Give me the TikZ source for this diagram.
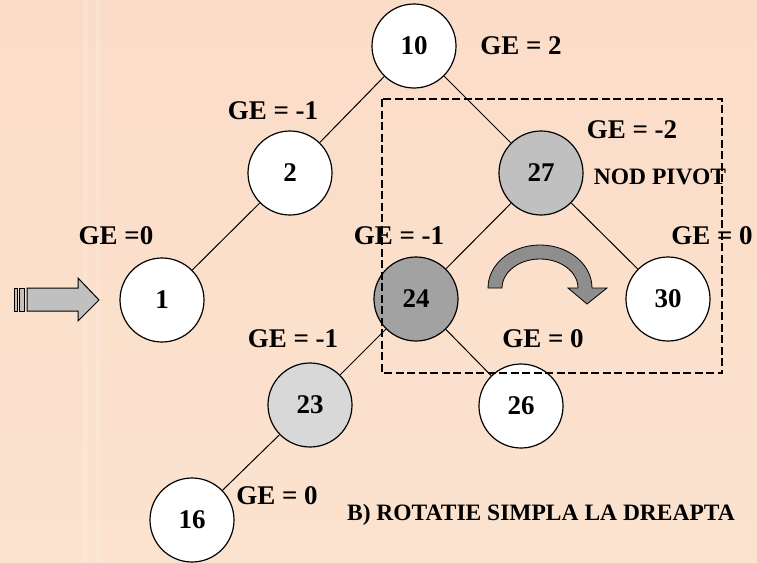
\documentclass[tikz,border=0pt]{standalone}
\usepackage{fontspec}
\setmainfont{Liberation Serif}
\usetikzlibrary{shapes.geometric}
\definecolor{bgtop}{HTML}{FBDCC8}
\definecolor{bgbot}{HTML}{FBE3CF}
\definecolor{pivotgray}{HTML}{C0C0C0}
\definecolor{hatchgray}{HTML}{A2A2A2}
\definecolor{dotgray}{HTML}{D8D8D8}
\definecolor{arrowgray}{HTML}{8E8E8E}
\tikzset{
  treenode/.style={circle, draw=black, line width=1.2pt, fill=white, minimum size=84pt, inner sep=0pt, font=\fontsize{27}{30}\selectfont\bfseries},
  gelabel/.style={font=\fontsize{27}{30}\selectfont\bfseries, inner sep=0pt},
  smalllabel/.style={font=\fontsize{23.5}{26}\selectfont\bfseries, inner sep=0pt},
  edge/.style={draw=black, line width=1pt},
}
\begin{document}
\begin{tikzpicture}[x=1pt,y=-1pt]
\useasboundingbox (0,0) rectangle (757,562);
\shade[top color=bgtop, bottom color=bgbot] (0,0) rectangle (757,562);
\fill[white, opacity=0.15] (83,0) rectangle (88,562);
\fill[white, opacity=0.15] (96,0) rectangle (100,562);

% nodes
\node[treenode] (n10) at (414,46) {10};
\node[treenode] (n2) at (290,173) {2};
\node[treenode, fill=pivotgray] (n27) at (541,173) {27};
\node[treenode] (n1) at (162,300) {1};
\node[treenode, fill=hatchgray] (n24) at (416,299) {24};
\node[treenode] (n30) at (668,299) {30};
\node[treenode, fill=dotgray] (n23) at (310,405) {23};
\node[treenode] (n26) at (521,406) {26};
\node[treenode] (n16) at (192,520) {16};

% edges
\draw[edge] (n10) -- (n2);
\draw[edge] (n10) -- (n27);
\draw[edge] (n2) -- (n1);
\draw[edge] (n27) -- (n24);
\draw[edge] (n27) -- (n30);
\draw[edge] (n24) -- (n23);
\draw[edge] (n24) -- (n26);
\draw[edge] (n23) -- (n16);

% labels
\node[gelabel] (l10) at (521,46) {GE = 2};
\node[gelabel] (l2) at (273,111) {GE = -1};
\node[gelabel] (l27) at (632,130) {GE = -2};
\node[smalllabel] (lpivot) at (660,177) {NOD PIVOT};
\node[gelabel] (l1) at (116,236) {GE =0};
\node[gelabel] (l24) at (399,236) {GE = -1};
\node[gelabel] (l30) at (712,236) {GE = 0};
\node[gelabel] (l23) at (293,339) {GE = -1};
\node[gelabel] (l26) at (543,339) {GE = 0};
\node[gelabel] (l16) at (277,496) {GE = 0};
\node[smalllabel] (title) at (541,515) {B) ROTATIE SIMPLA LA DREAPTA};

% dashed box
\draw[black, line width=2.6pt, dash pattern=on 8pt off 3.5pt] (382,99) rectangle (722,373);

% left block arrow
\draw[black, line width=1pt, fill=pivotgray] (14,288) rectangle (17,311);
\draw[black, line width=1pt, fill=pivotgray] (19,288) rectangle (24,311);
\draw[black, line width=1pt, fill=pivotgray] (27,288) -- (78,288) -- (78,278) -- (99,300) -- (78,321) -- (78,311) -- (27,311) -- cycle;

% curved rotation arrow
\draw[black, line width=0.8pt, fill=arrowgray] (488,288) arc[start angle=180, end angle=360, x radius=52, y radius=43]
  -- (607,288) -- (587,304) -- (568,288) -- (578,288)
  arc[start angle=0, end angle=-180, x radius=38, y radius=29] -- cycle;
\end{tikzpicture}
\end{document}
